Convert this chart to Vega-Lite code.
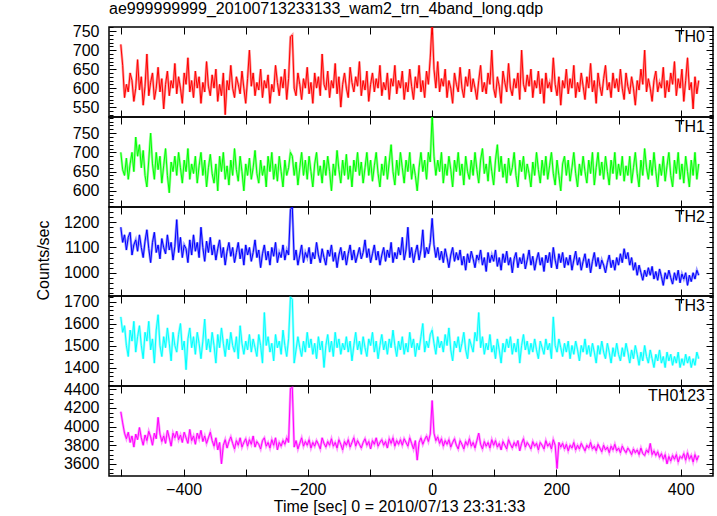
{
"$schema":"https://vega.github.io/schema/vega-lite/v6.json",
"padding":{"left":34,"top":0,"right":4,"bottom":2},
"config":{"font":"Liberation Sans","view":{"stroke":"#000","strokeWidth":1.5},"axis":{"labelFontSize":16,"labelColor":"#000","tickColor":"#000","tickWidth":1,"domain":false,"grid":false,"labelOverlap":false,"labelFlush":false,"titleFontSize":16,"titleFontWeight":"normal","titleColor":"#000"}},
"data":{"values":[
{"t":-501,"a":715,"b":700,"c":1180,"d":1630,"e":4160},
{"t":-498,"a":660,"b":655,"c":1120,"d":1560,"e":4040},
{"t":-495,"a":575,"b":640,"c":1150,"d":1590,"e":3930},
{"t":-492,"a":610,"b":685,"c":1090,"d":1500,"e":3870},
{"t":-489,"a":590,"b":630,"c":1140,"d":1450,"e":3940},
{"t":-486,"a":640,"b":670,"c":1160,"d":1570,"e":3830},
{"t":-483,"a":620,"b":700,"c":1070,"d":1520,"e":3900},
{"t":-480,"a":565,"b":650,"c":1110,"d":1610,"e":3780},
{"t":-477,"a":600,"b":740,"c":1130,"d":1470,"e":3920},
{"t":-474,"a":675,"b":690,"c":1085,"d":1540,"e":3860},
{"t":-471,"a":595,"b":720,"c":1150,"d":1590,"e":3990},
{"t":-468,"a":630,"b":660,"c":1100,"d":1500,"e":3880},
{"t":-465,"a":555,"b":705,"c":1060,"d":1440,"e":3800},
{"t":-462,"a":605,"b":640,"c":1125,"d":1560,"e":3910},
{"t":-459,"a":690,"b":610,"c":1170,"d":1520,"e":3850},
{"t":-456,"a":580,"b":680,"c":1095,"d":1610,"e":3950},
{"t":-453,"a":615,"b":750,"c":1040,"d":1480,"e":3890},
{"t":-450,"a":640,"b":670,"c":1120,"d":1530,"e":3800},
{"t":-447,"a":570,"b":630,"c":1160,"d":1420,"e":3930},
{"t":-444,"a":600,"b":700,"c":1080,"d":1570,"e":3870},
{"t":-441,"a":655,"b":655,"c":1110,"d":1640,"e":4100},
{"t":-438,"a":590,"b":690,"c":1055,"d":1500,"e":3920},
{"t":-435,"a":625,"b":620,"c":1135,"d":1450,"e":3840},
{"t":-432,"a":545,"b":665,"c":1100,"d":1540,"e":3900},
{"t":-429,"a":610,"b":710,"c":1075,"d":1490,"e":3820},
{"t":-426,"a":645,"b":640,"c":1150,"d":1580,"e":3960},
{"t":-423,"a":580,"b":595,"c":1090,"d":1510,"e":3880},
{"t":-420,"a":620,"b":675,"c":1120,"d":1430,"e":3790},
{"t":-417,"a":600,"b":650,"c":1050,"d":1560,"e":3930},
{"t":-414,"a":665,"b":690,"c":1105,"d":1500,"e":3880},
{"t":-411,"a":585,"b":640,"c":1210,"d":1470,"e":3950},
{"t":-408,"a":630,"b":700,"c":1080,"d":1550,"e":3860},
{"t":-405,"a":600,"b":660,"c":1140,"d":1600,"e":3910},
{"t":-402,"a":560,"b":620,"c":1060,"d":1480,"e":3830},
{"t":-399,"a":640,"b":680,"c":1110,"d":1520,"e":3940},
{"t":-396,"a":610,"b":650,"c":1095,"d":1390,"e":3880},
{"t":-393,"a":680,"b":710,"c":1040,"d":1530,"e":3820},
{"t":-390,"a":590,"b":630,"c":1130,"d":1580,"e":3970},
{"t":-387,"a":620,"b":670,"c":1070,"d":1490,"e":3850},
{"t":-384,"a":575,"b":645,"c":1150,"d":1540,"e":3900},
{"t":-381,"a":645,"b":690,"c":1085,"d":1460,"e":3810},
{"t":-378,"a":600,"b":620,"c":1120,"d":1560,"e":3930},
{"t":-375,"a":630,"b":665,"c":1060,"d":1510,"e":3870},
{"t":-372,"a":560,"b":700,"c":1180,"d":1440,"e":3960},
{"t":-369,"a":615,"b":640,"c":1100,"d":1520,"e":3840},
{"t":-366,"a":590,"b":680,"c":1045,"d":1620,"e":3900},
{"t":-363,"a":670,"b":610,"c":1125,"d":1480,"e":3820},
{"t":-360,"a":605,"b":660,"c":1080,"d":1530,"e":3880},
{"t":-357,"a":580,"b":695,"c":1140,"d":1470,"e":3940},
{"t":-354,"a":635,"b":645,"c":1070,"d":1560,"e":3850},
{"t":-351,"a":600,"b":620,"c":1110,"d":1500,"e":3790},
{"t":-348,"a":650,"b":670,"c":1050,"d":1420,"e":3880},
{"t":-345,"a":565,"b":600,"c":1095,"d":1550,"e":3750},
{"t":-342,"a":610,"b":690,"c":1130,"d":1490,"e":3830},
{"t":-339,"a":580,"b":650,"c":1060,"d":1580,"e":3600},
{"t":-336,"a":640,"b":700,"c":1100,"d":1510,"e":3800},
{"t":-333,"a":530,"b":630,"c":1030,"d":1450,"e":3860},
{"t":-330,"a":620,"b":665,"c":1085,"d":1530,"e":3770},
{"t":-327,"a":595,"b":615,"c":1120,"d":1480,"e":3840},
{"t":-324,"a":660,"b":680,"c":1065,"d":1560,"e":3890},
{"t":-321,"a":600,"b":640,"c":1100,"d":1500,"e":3820},
{"t":-318,"a":575,"b":710,"c":1040,"d":1470,"e":3760},
{"t":-315,"a":630,"b":655,"c":1080,"d":1540,"e":3850},
{"t":-312,"a":610,"b":625,"c":1120,"d":1440,"e":3800},
{"t":-309,"a":585,"b":690,"c":1055,"d":1590,"e":3880},
{"t":-306,"a":645,"b":650,"c":1095,"d":1510,"e":3780},
{"t":-303,"a":600,"b":600,"c":1030,"d":1460,"e":3830},
{"t":-300,"a":560,"b":670,"c":1110,"d":1520,"e":3870},
{"t":-297,"a":625,"b":640,"c":1070,"d":1480,"e":3790},
{"t":-294,"a":700,"b":685,"c":1100,"d":1550,"e":3860},
{"t":-291,"a":605,"b":630,"c":1045,"d":1470,"e":3810},
{"t":-288,"a":640,"b":660,"c":1080,"d":1530,"e":3900},
{"t":-285,"a":580,"b":705,"c":1130,"d":1490,"e":3780},
{"t":-282,"a":615,"b":645,"c":1060,"d":1450,"e":3840},
{"t":-279,"a":595,"b":620,"c":1090,"d":1550,"e":3810},
{"t":-276,"a":650,"b":680,"c":1020,"d":1500,"e":3760},
{"t":-273,"a":575,"b":640,"c":1075,"d":1420,"e":3850},
{"t":-270,"a":620,"b":665,"c":1110,"d":1650,"e":3880},
{"t":-267,"a":600,"b":610,"c":1050,"d":1500,"e":3790},
{"t":-264,"a":635,"b":690,"c":1085,"d":1540,"e":3830},
{"t":-261,"a":560,"b":650,"c":1030,"d":1470,"e":3770},
{"t":-258,"a":610,"b":700,"c":1100,"d":1510,"e":3860},
{"t":-255,"a":590,"b":630,"c":1065,"d":1430,"e":3800},
{"t":-252,"a":660,"b":670,"c":1120,"d":1550,"e":3880},
{"t":-249,"a":615,"b":625,"c":1040,"d":1490,"e":3750},
{"t":-246,"a":580,"b":690,"c":1080,"d":1520,"e":3830},
{"t":-243,"a":630,"b":650,"c":1060,"d":1460,"e":3790},
{"t":-240,"a":600,"b":610,"c":1110,"d":1570,"e":3850},
{"t":-237,"a":650,"b":680,"c":1050,"d":1500,"e":3810},
{"t":-234,"a":570,"b":640,"c":1090,"d":1450,"e":3880},
{"t":-231,"a":625,"b":660,"c":1070,"d":1530,"e":3830},
{"t":-228,"a":735,"b":700,"c":1250,"d":1720,"e":4410},
{"t":-225,"a":740,"b":690,"c":1260,"d":1710,"e":4420},
{"t":-222,"a":600,"b":640,"c":1050,"d":1420,"e":3780},
{"t":-219,"a":580,"b":675,"c":1090,"d":1480,"e":3850},
{"t":-216,"a":640,"b":615,"c":1030,"d":1540,"e":3760},
{"t":-213,"a":610,"b":660,"c":1070,"d":1490,"e":3820},
{"t":-210,"a":570,"b":700,"c":1110,"d":1450,"e":3880},
{"t":-207,"a":625,"b":640,"c":1040,"d":1520,"e":3790},
{"t":-204,"a":600,"b":680,"c":1080,"d":1470,"e":3840},
{"t":-201,"a":655,"b":630,"c":1060,"d":1560,"e":3800},
{"t":-198,"a":585,"b":690,"c":1100,"d":1490,"e":3860},
{"t":-195,"a":615,"b":650,"c":1035,"d":1530,"e":3770},
{"t":-192,"a":560,"b":610,"c":1080,"d":1460,"e":3830},
{"t":-189,"a":640,"b":670,"c":1055,"d":1510,"e":3790},
{"t":-186,"a":600,"b":700,"c":1120,"d":1440,"e":3850},
{"t":-183,"a":630,"b":640,"c":1070,"d":1540,"e":3810},
{"t":-180,"a":580,"b":665,"c":1040,"d":1480,"e":3760},
{"t":-177,"a":690,"b":620,"c":1095,"d":1520,"e":3880},
{"t":-174,"a":610,"b":680,"c":1060,"d":1400,"e":3820},
{"t":-171,"a":595,"b":640,"c":1030,"d":1500,"e":3780},
{"t":-168,"a":645,"b":690,"c":1090,"d":1550,"e":3840},
{"t":-165,"a":575,"b":650,"c":1065,"d":1470,"e":3800},
{"t":-162,"a":620,"b":600,"c":1110,"d":1520,"e":3870},
{"t":-159,"a":600,"b":670,"c":1045,"d":1450,"e":3790},
{"t":-156,"a":665,"b":640,"c":1080,"d":1560,"e":3830},
{"t":-153,"a":585,"b":705,"c":1020,"d":1490,"e":3770},
{"t":-150,"a":630,"b":655,"c":1070,"d":1530,"e":3860},
{"t":-147,"a":550,"b":620,"c":1100,"d":1460,"e":3810},
{"t":-144,"a":610,"b":680,"c":1050,"d":1510,"e":3750},
{"t":-141,"a":640,"b":640,"c":1085,"d":1480,"e":3840},
{"t":-138,"a":600,"b":695,"c":1030,"d":1540,"e":3800},
{"t":-135,"a":575,"b":630,"c":1075,"d":1470,"e":3860},
{"t":-132,"a":655,"b":665,"c":1110,"d":1520,"e":3780},
{"t":-129,"a":615,"b":610,"c":1050,"d":1430,"e":3830},
{"t":-126,"a":590,"b":680,"c":1090,"d":1500,"e":3880},
{"t":-123,"a":630,"b":650,"c":1040,"d":1560,"e":3790},
{"t":-120,"a":605,"b":700,"c":1070,"d":1480,"e":3850},
{"t":-117,"a":670,"b":640,"c":1100,"d":1520,"e":3810},
{"t":-114,"a":580,"b":675,"c":1055,"d":1460,"e":3770},
{"t":-111,"a":620,"b":620,"c":1080,"d":1540,"e":3830},
{"t":-108,"a":595,"b":660,"c":1130,"d":1490,"e":3870},
{"t":-105,"a":645,"b":700,"c":1060,"d":1450,"e":3800},
{"t":-102,"a":565,"b":640,"c":1095,"d":1530,"e":3840},
{"t":-99,"a":610,"b":680,"c":1040,"d":1500,"e":3760},
{"t":-96,"a":640,"b":625,"c":1075,"d":1560,"e":3850},
{"t":-93,"a":590,"b":665,"c":1110,"d":1470,"e":3810},
{"t":-90,"a":625,"b":700,"c":1050,"d":1520,"e":3880},
{"t":-87,"a":600,"b":645,"c":1085,"d":1440,"e":3790},
{"t":-84,"a":660,"b":610,"c":1030,"d":1500,"e":3830},
{"t":-81,"a":580,"b":670,"c":1070,"d":1550,"e":3860},
{"t":-78,"a":615,"b":640,"c":1100,"d":1480,"e":3800},
{"t":-75,"a":595,"b":690,"c":1045,"d":1520,"e":3840},
{"t":-72,"a":640,"b":630,"c":1090,"d":1460,"e":3770},
{"t":-69,"a":570,"b":675,"c":1060,"d":1530,"e":3870},
{"t":-66,"a":625,"b":720,"c":1120,"d":1490,"e":3820},
{"t":-63,"a":605,"b":650,"c":1040,"d":1570,"e":3880},
{"t":-60,"a":660,"b":615,"c":1080,"d":1500,"e":3790},
{"t":-57,"a":585,"b":680,"c":1055,"d":1450,"e":3850},
{"t":-54,"a":620,"b":640,"c":1100,"d":1520,"e":3810},
{"t":-51,"a":600,"b":700,"c":1070,"d":1480,"e":3860},
{"t":-48,"a":645,"b":660,"c":1140,"d":1540,"e":3800},
{"t":-45,"a":570,"b":620,"c":1050,"d":1460,"e":3870},
{"t":-42,"a":615,"b":680,"c":1090,"d":1510,"e":3830},
{"t":-39,"a":590,"b":650,"c":1180,"d":1470,"e":3790},
{"t":-36,"a":650,"b":700,"c":1060,"d":1560,"e":3880},
{"t":-33,"a":605,"b":630,"c":1100,"d":1490,"e":3820},
{"t":-30,"a":570,"b":670,"c":1040,"d":1530,"e":3760},
{"t":-27,"a":630,"b":640,"c":1080,"d":1450,"e":3850},
{"t":-24,"a":600,"b":600,"c":1110,"d":1510,"e":3640},
{"t":-21,"a":660,"b":660,"c":1050,"d":1480,"e":3830},
{"t":-18,"a":590,"b":700,"c":1090,"d":1540,"e":3880},
{"t":-15,"a":620,"b":650,"c":1170,"d":1600,"e":3810},
{"t":-12,"a":575,"b":680,"c":1060,"d":1470,"e":3860},
{"t":-9,"a":645,"b":630,"c":1100,"d":1520,"e":3900},
{"t":-6,"a":610,"b":700,"c":1075,"d":1490,"e":3840},
{"t":-3,"a":680,"b":675,"c":1120,"d":1550,"e":3920},
{"t":0,"a":775,"b":800,"c":1215,"d":1570,"e":4280},
{"t":3,"a":650,"b":690,"c":1110,"d":1510,"e":3930},
{"t":6,"a":600,"b":640,"c":1060,"d":1460,"e":3850},
{"t":9,"a":670,"b":680,"c":1100,"d":1540,"e":3890},
{"t":12,"a":590,"b":650,"c":1050,"d":1490,"e":3820},
{"t":15,"a":625,"b":700,"c":1085,"d":1520,"e":3870},
{"t":18,"a":605,"b":620,"c":1040,"d":1470,"e":3790},
{"t":21,"a":650,"b":670,"c":1095,"d":1550,"e":3850},
{"t":24,"a":575,"b":640,"c":1060,"d":1500,"e":3810},
{"t":27,"a":620,"b":690,"c":1020,"d":1580,"e":3860},
{"t":30,"a":600,"b":655,"c":1070,"d":1480,"e":3780},
{"t":33,"a":560,"b":610,"c":1100,"d":1430,"e":3830},
{"t":36,"a":640,"b":680,"c":1045,"d":1520,"e":3870},
{"t":39,"a":610,"b":650,"c":1080,"d":1490,"e":3800},
{"t":42,"a":590,"b":700,"c":1050,"d":1540,"e":3760},
{"t":45,"a":655,"b":640,"c":1090,"d":1470,"e":3850},
{"t":48,"a":600,"b":670,"c":1030,"d":1510,"e":3810},
{"t":51,"a":575,"b":615,"c":1065,"d":1560,"e":3760},
{"t":54,"a":630,"b":690,"c":1010,"d":1480,"e":3840},
{"t":57,"a":605,"b":650,"c":1075,"d":1440,"e":3800},
{"t":60,"a":650,"b":630,"c":1040,"d":1530,"e":3870},
{"t":63,"a":590,"b":680,"c":1085,"d":1500,"e":3790},
{"t":66,"a":625,"b":640,"c":1055,"d":1470,"e":3830},
{"t":69,"a":600,"b":700,"c":1020,"d":1560,"e":3770},
{"t":72,"a":570,"b":655,"c":1070,"d":1520,"e":3850},
{"t":75,"a":620,"b":620,"c":1050,"d":1650,"e":3930},
{"t":78,"a":660,"b":680,"c":1090,"d":1490,"e":3810},
{"t":81,"a":590,"b":710,"c":1030,"d":1540,"e":3760},
{"t":84,"a":615,"b":645,"c":1060,"d":1460,"e":3840},
{"t":87,"a":585,"b":670,"c":1005,"d":1510,"e":3790},
{"t":90,"a":640,"b":625,"c":1080,"d":1480,"e":3830},
{"t":93,"a":610,"b":690,"c":1040,"d":1550,"e":3770},
{"t":96,"a":700,"b":650,"c":1070,"d":1470,"e":3860},
{"t":99,"a":600,"b":615,"c":1045,"d":1500,"e":3800},
{"t":102,"a":575,"b":680,"c":1090,"d":1440,"e":3850},
{"t":105,"a":630,"b":720,"c":1025,"d":1530,"e":3780},
{"t":108,"a":605,"b":650,"c":1060,"d":1480,"e":3820},
{"t":111,"a":560,"b":690,"c":1010,"d":1420,"e":3750},
{"t":114,"a":645,"b":635,"c":1075,"d":1510,"e":3840},
{"t":117,"a":615,"b":670,"c":1040,"d":1470,"e":3800},
{"t":120,"a":590,"b":620,"c":1085,"d":1530,"e":3760},
{"t":123,"a":665,"b":685,"c":1030,"d":1490,"e":3860},
{"t":126,"a":600,"b":640,"c":1060,"d":1540,"e":3810},
{"t":129,"a":580,"b":660,"c":1000,"d":1460,"e":3770},
{"t":132,"a":625,"b":700,"c":1055,"d":1510,"e":3830},
{"t":135,"a":600,"b":640,"c":1080,"d":1470,"e":3790},
{"t":138,"a":640,"b":610,"c":1020,"d":1530,"e":3850},
{"t":141,"a":570,"b":680,"c":1060,"d":1420,"e":3740},
{"t":144,"a":700,"b":650,"c":1035,"d":1500,"e":3820},
{"t":147,"a":610,"b":690,"c":1075,"d":1550,"e":3870},
{"t":150,"a":590,"b":630,"c":1015,"d":1480,"e":3780},
{"t":153,"a":635,"b":670,"c":1050,"d":1520,"e":3830},
{"t":156,"a":605,"b":645,"c":1090,"d":1460,"e":3800},
{"t":159,"a":650,"b":610,"c":1030,"d":1510,"e":3760},
{"t":162,"a":575,"b":675,"c":1065,"d":1470,"e":3840},
{"t":165,"a":620,"b":640,"c":1010,"d":1530,"e":3790},
{"t":168,"a":600,"b":700,"c":1050,"d":1480,"e":3820},
{"t":171,"a":645,"b":655,"c":1080,"d":1440,"e":3750},
{"t":174,"a":585,"b":620,"c":1030,"d":1520,"e":3830},
{"t":177,"a":625,"b":680,"c":1060,"d":1490,"e":3800},
{"t":180,"a":560,"b":640,"c":1005,"d":1460,"e":3760},
{"t":183,"a":640,"b":690,"c":1070,"d":1530,"e":3850},
{"t":186,"a":600,"b":630,"c":1040,"d":1480,"e":3790},
{"t":189,"a":615,"b":665,"c":1080,"d":1510,"e":3820},
{"t":192,"a":590,"b":700,"c":1020,"d":1440,"e":3760},
{"t":195,"a":680,"b":645,"c":1100,"d":1630,"e":3860},
{"t":198,"a":610,"b":615,"c":1050,"d":1500,"e":3800},
{"t":201,"a":580,"b":680,"c":1015,"d":1470,"e":3550},
{"t":204,"a":630,"b":640,"c":1075,"d":1530,"e":3830},
{"t":207,"a":555,"b":600,"c":1040,"d":1490,"e":3780},
{"t":210,"a":620,"b":670,"c":1080,"d":1450,"e":3820},
{"t":213,"a":600,"b":690,"c":1020,"d":1510,"e":3760},
{"t":216,"a":650,"b":640,"c":1060,"d":1470,"e":3810},
{"t":219,"a":585,"b":680,"c":1030,"d":1520,"e":3740},
{"t":222,"a":625,"b":625,"c":1070,"d":1440,"e":3800},
{"t":225,"a":600,"b":660,"c":1010,"d":1500,"e":3770},
{"t":228,"a":660,"b":700,"c":1050,"d":1460,"e":3830},
{"t":231,"a":575,"b":645,"c":1085,"d":1520,"e":3750},
{"t":234,"a":615,"b":610,"c":1030,"d":1480,"e":3800},
{"t":237,"a":590,"b":670,"c":1060,"d":1430,"e":3760},
{"t":240,"a":640,"b":640,"c":1010,"d":1500,"e":3820},
{"t":243,"a":605,"b":690,"c":1045,"d":1470,"e":3780},
{"t":246,"a":570,"b":650,"c":1075,"d":1530,"e":3740},
{"t":249,"a":630,"b":620,"c":1020,"d":1460,"e":3800},
{"t":252,"a":600,"b":680,"c":1055,"d":1500,"e":3770},
{"t":255,"a":665,"b":645,"c":1000,"d":1450,"e":3830},
{"t":258,"a":590,"b":700,"c":1045,"d":1510,"e":3760},
{"t":261,"a":620,"b":615,"c":1080,"d":1470,"e":3790},
{"t":264,"a":560,"b":660,"c":1025,"d":1420,"e":3740},
{"t":267,"a":640,"b":700,"c":1060,"d":1500,"e":3810},
{"t":270,"a":605,"b":640,"c":1015,"d":1460,"e":3770},
{"t":273,"a":580,"b":675,"c":1050,"d":1520,"e":3730},
{"t":276,"a":625,"b":630,"c":1030,"d":1470,"e":3800},
{"t":279,"a":660,"b":690,"c":1000,"d":1440,"e":3750},
{"t":282,"a":595,"b":650,"c":1040,"d":1510,"e":3780},
{"t":285,"a":615,"b":615,"c":1070,"d":1470,"e":3720},
{"t":288,"a":575,"b":680,"c":1020,"d":1420,"e":3790},
{"t":291,"a":640,"b":645,"c":1050,"d":1490,"e":3750},
{"t":294,"a":600,"b":700,"c":1010,"d":1450,"e":3810},
{"t":297,"a":625,"b":630,"c":1060,"d":1510,"e":3740},
{"t":300,"a":590,"b":670,"c":1030,"d":1460,"e":3770},
{"t":303,"a":650,"b":640,"c":1075,"d":1430,"e":3720},
{"t":306,"a":600,"b":690,"c":1040,"d":1490,"e":3790},
{"t":309,"a":570,"b":625,"c":1095,"d":1450,"e":3750},
{"t":312,"a":640,"b":665,"c":1055,"d":1510,"e":3720},
{"t":315,"a":605,"b":640,"c":1080,"d":1470,"e":3770},
{"t":318,"a":585,"b":690,"c":1030,"d":1420,"e":3740},
{"t":321,"a":630,"b":620,"c":1060,"d":1480,"e":3700},
{"t":324,"a":600,"b":660,"c":1010,"d":1440,"e":3760},
{"t":327,"a":555,"b":700,"c":1040,"d":1500,"e":3720},
{"t":330,"a":620,"b":645,"c":990,"d":1460,"e":3750},
{"t":333,"a":595,"b":610,"c":1030,"d":1410,"e":3700},
{"t":336,"a":650,"b":680,"c":1000,"d":1470,"e":3770},
{"t":339,"a":610,"b":640,"c":970,"d":1430,"e":3710},
{"t":342,"a":700,"b":710,"c":1010,"d":1500,"e":3690},
{"t":345,"a":590,"b":660,"c":985,"d":1450,"e":3750},
{"t":348,"a":625,"b":630,"c":1020,"d":1420,"e":3720},
{"t":351,"a":600,"b":680,"c":990,"d":1480,"e":3820},
{"t":354,"a":565,"b":640,"c":1025,"d":1440,"e":3700},
{"t":357,"a":620,"b":700,"c":975,"d":1400,"e":3740},
{"t":360,"a":645,"b":650,"c":1005,"d":1460,"e":3690},
{"t":363,"a":590,"b":610,"c":970,"d":1430,"e":3730},
{"t":366,"a":615,"b":670,"c":1015,"d":1480,"e":3670},
{"t":369,"a":600,"b":640,"c":985,"d":1420,"e":3710},
{"t":372,"a":655,"b":690,"c":950,"d":1450,"e":3650},
{"t":375,"a":575,"b":625,"c":1000,"d":1400,"e":3700},
{"t":378,"a":620,"b":665,"c":975,"d":1470,"e":3600},
{"t":381,"a":590,"b":700,"c":1010,"d":1430,"e":3680},
{"t":384,"a":640,"b":640,"c":980,"d":1460,"e":3630},
{"t":387,"a":610,"b":610,"c":955,"d":1410,"e":3690},
{"t":390,"a":670,"b":680,"c":1000,"d":1450,"e":3650},
{"t":393,"a":580,"b":645,"c":970,"d":1420,"e":3700},
{"t":396,"a":625,"b":700,"c":1010,"d":1470,"e":3620},
{"t":399,"a":600,"b":630,"c":960,"d":1400,"e":3680},
{"t":402,"a":650,"b":670,"c":995,"d":1440,"e":3660},
{"t":405,"a":565,"b":620,"c":975,"d":1410,"e":3710},
{"t":408,"a":620,"b":690,"c":1000,"d":1460,"e":3640},
{"t":411,"a":680,"b":650,"c":950,"d":1420,"e":3720},
{"t":414,"a":595,"b":610,"c":990,"d":1450,"e":3650},
{"t":417,"a":615,"b":680,"c":965,"d":1400,"e":3690},
{"t":420,"a":545,"b":640,"c":1000,"d":1440,"e":3620},
{"t":423,"a":630,"b":700,"c":975,"d":1410,"e":3700},
{"t":426,"a":585,"b":630,"c":1010,"d":1470,"e":3640},
{"t":429,"a":620,"b":670,"c":990,"d":1440,"e":3690}
]},
"vconcat":[
{"width":604,"height":90,
 "title":{"text":"ae999999999_20100713233133_wam2_trn_4band_long.qdp","anchor":"start","frame":"group","fontSize":16,"fontWeight":"normal","offset":2,"color":"#000"},
 "layer":[
  {"mark":{"type":"line","color":"#ff0000","strokeWidth":2.5,"opacity":0.4,"clip":true},
   "encoding":{"x":{"field":"t","type":"quantitative","scale":{"domain":[-520,452],"nice":false,"zero":false},"axis":{"orient":"bottom","values":[-500,-400,-300,-200,-100,0,100,200,300,400],"labels":false,"tickSize":-7,"title":null}},
    "y":{"field":"a","type":"quantitative","scale":{"domain":[524,761],"nice":false,"zero":false},"axis":{"orient":"left","format":"d","values":[530,540,550,560,570,580,590,600,610,620,630,640,650,660,670,680,690,700,710,720,730,740,750,760],"labelExpr":"datum.value % 50 === 0 ? datum.label : ''","tickSize":{"condition":{"test":"datum.value % 50 === 0","value":-7},"value":-4},"labelPadding":17,"title":null}}}},
  {"mark":{"type":"line","color":"#ff0000","strokeWidth":1,"clip":true},
   "encoding":{"x":{"field":"t","type":"quantitative","scale":{"domain":[-520,452],"nice":false,"zero":false},"axis":{"orient":"top","values":[-500,-400,-300,-200,-100,0,100,200,300,400],"labels":false,"tickSize":-7,"title":null}},
    "y":{"field":"a","type":"quantitative","scale":{"domain":[524,761],"nice":false,"zero":false},"axis":{"orient":"right","values":[530,540,550,560,570,580,590,600,610,620,630,640,650,660,670,680,690,700,710,720,730,740,750,760],"labels":false,"tickSize":{"condition":{"test":"datum.value % 50 === 0","value":-7},"value":-4},"title":null}}}},
  {"data":{"values":[{"lab":"TH0"}]},"mark":{"type":"text","align":"right","baseline":"top","fontSize":16,"dx":-8,"dy":2,"color":"#000"},
   "encoding":{"x":{"datum":452,"type":"quantitative","scale":{"domain":[-520,452],"nice":false,"zero":false},"axis":null},"y":{"datum":761,"type":"quantitative","scale":{"domain":[524,761],"nice":false,"zero":false},"axis":null},"text":{"field":"lab"}}}
 ],
 "resolve":{"axis":{"x":"independent","y":"independent"}}},
{"width":604,"height":90,
 "layer":[
  {"mark":{"type":"line","color":"#00ff00","strokeWidth":2.5,"opacity":0.4,"clip":true},
   "encoding":{"x":{"field":"t","type":"quantitative","scale":{"domain":[-520,452],"nice":false,"zero":false},"axis":{"orient":"bottom","values":[-500,-400,-300,-200,-100,0,100,200,300,400],"labels":false,"tickSize":-7,"title":null}},
    "y":{"field":"b","type":"quantitative","scale":{"domain":[558,792],"nice":false,"zero":false},"axis":{"orient":"left","format":"d","values":[560,570,580,590,600,610,620,630,640,650,660,670,680,690,700,710,720,730,740,750,760,770,780,790],"labelExpr":"datum.value % 50 === 0 ? datum.label : ''","tickSize":{"condition":{"test":"datum.value % 50 === 0","value":-7},"value":-4},"labelPadding":17,"title":null}}}},
  {"mark":{"type":"line","color":"#00ff00","strokeWidth":1,"clip":true},
   "encoding":{"x":{"field":"t","type":"quantitative","scale":{"domain":[-520,452],"nice":false,"zero":false},"axis":{"orient":"top","values":[-500,-400,-300,-200,-100,0,100,200,300,400],"labels":false,"tickSize":-7,"title":null}},
    "y":{"field":"b","type":"quantitative","scale":{"domain":[558,792],"nice":false,"zero":false},"axis":{"orient":"right","values":[560,570,580,590,600,610,620,630,640,650,660,670,680,690,700,710,720,730,740,750,760,770,780,790],"labels":false,"tickSize":{"condition":{"test":"datum.value % 50 === 0","value":-7},"value":-4},"title":null}}}},
  {"data":{"values":[{"lab":"TH1"}]},"mark":{"type":"text","align":"right","baseline":"top","fontSize":16,"dx":-8,"dy":2,"color":"#000"},
   "encoding":{"x":{"datum":452,"type":"quantitative","scale":{"domain":[-520,452],"nice":false,"zero":false},"axis":null},"y":{"datum":792,"type":"quantitative","scale":{"domain":[558,792],"nice":false,"zero":false},"axis":null},"text":{"field":"lab"}}}
 ],
 "resolve":{"axis":{"x":"independent","y":"independent"}}},
{"width":604,"height":89,
 "layer":[
  {"mark":{"type":"line","color":"#0000ff","strokeWidth":2.5,"opacity":0.4,"clip":true},
   "encoding":{"x":{"field":"t","type":"quantitative","scale":{"domain":[-520,452],"nice":false,"zero":false},"axis":{"orient":"bottom","values":[-500,-400,-300,-200,-100,0,100,200,300,400],"labels":false,"tickSize":-7,"title":null}},
    "y":{"field":"c","type":"quantitative","scale":{"domain":[908,1260],"nice":false,"zero":false},"axis":{"orient":"left","format":"d","values":[920,940,960,980,1000,1020,1040,1060,1080,1100,1120,1140,1160,1180,1200,1220,1240],"labelExpr":"datum.value % 100 === 0 ? datum.label : ''","tickSize":{"condition":{"test":"datum.value % 100 === 0","value":-7},"value":-4},"labelPadding":17,"title":"Counts/sec","titleX":-66,"titleY":53,"titleAngle":-90,"titleBaseline":"middle","titleAlign":"center"}}}},
  {"mark":{"type":"line","color":"#0000ff","strokeWidth":1,"clip":true},
   "encoding":{"x":{"field":"t","type":"quantitative","scale":{"domain":[-520,452],"nice":false,"zero":false},"axis":{"orient":"top","values":[-500,-400,-300,-200,-100,0,100,200,300,400],"labels":false,"tickSize":-7,"title":null}},
    "y":{"field":"c","type":"quantitative","scale":{"domain":[908,1260],"nice":false,"zero":false},"axis":{"orient":"right","values":[920,940,960,980,1000,1020,1040,1060,1080,1100,1120,1140,1160,1180,1200,1220,1240],"labels":false,"tickSize":{"condition":{"test":"datum.value % 100 === 0","value":-7},"value":-4},"title":null}}}},
  {"data":{"values":[{"lab":"TH2"}]},"mark":{"type":"text","align":"right","baseline":"top","fontSize":16,"dx":-8,"dy":2,"color":"#000"},
   "encoding":{"x":{"datum":452,"type":"quantitative","scale":{"domain":[-520,452],"nice":false,"zero":false},"axis":null},"y":{"datum":1260,"type":"quantitative","scale":{"domain":[908,1260],"nice":false,"zero":false},"axis":null},"text":{"field":"lab"}}}
 ],
 "resolve":{"axis":{"x":"independent","y":"independent"}}},
{"width":604,"height":90,
 "layer":[
  {"mark":{"type":"line","color":"#00ffff","strokeWidth":2.5,"opacity":0.4,"clip":true},
   "encoding":{"x":{"field":"t","type":"quantitative","scale":{"domain":[-520,452],"nice":false,"zero":false},"axis":{"orient":"bottom","values":[-500,-400,-300,-200,-100,0,100,200,300,400],"labels":false,"tickSize":-7,"title":null}},
    "y":{"field":"d","type":"quantitative","scale":{"domain":[1316,1725],"nice":false,"zero":false},"axis":{"orient":"left","format":"d","values":[1320,1340,1360,1380,1400,1420,1440,1460,1480,1500,1520,1540,1560,1580,1600,1620,1640,1660,1680,1700,1720],"labelExpr":"datum.value % 100 === 0 ? datum.label : ''","tickSize":{"condition":{"test":"datum.value % 100 === 0","value":-7},"value":-4},"labelPadding":17,"title":null}}}},
  {"mark":{"type":"line","color":"#00ffff","strokeWidth":1,"clip":true},
   "encoding":{"x":{"field":"t","type":"quantitative","scale":{"domain":[-520,452],"nice":false,"zero":false},"axis":{"orient":"top","values":[-500,-400,-300,-200,-100,0,100,200,300,400],"labels":false,"tickSize":-7,"title":null}},
    "y":{"field":"d","type":"quantitative","scale":{"domain":[1316,1725],"nice":false,"zero":false},"axis":{"orient":"right","values":[1320,1340,1360,1380,1400,1420,1440,1460,1480,1500,1520,1540,1560,1580,1600,1620,1640,1660,1680,1700,1720],"labels":false,"tickSize":{"condition":{"test":"datum.value % 100 === 0","value":-7},"value":-4},"title":null}}}},
  {"data":{"values":[{"lab":"TH3"}]},"mark":{"type":"text","align":"right","baseline":"top","fontSize":16,"dx":-8,"dy":2,"color":"#000"},
   "encoding":{"x":{"datum":452,"type":"quantitative","scale":{"domain":[-520,452],"nice":false,"zero":false},"axis":null},"y":{"datum":1725,"type":"quantitative","scale":{"domain":[1316,1725],"nice":false,"zero":false},"axis":null},"text":{"field":"lab"}}}
 ],
 "resolve":{"axis":{"x":"independent","y":"independent"}}},
{"width":604,"height":90,
 "layer":[
  {"mark":{"type":"line","color":"#ff00ff","strokeWidth":2.5,"opacity":0.4,"clip":true},
   "encoding":{"x":{"field":"t","type":"quantitative","scale":{"domain":[-520,452],"nice":false,"zero":false},"axis":{"orient":"bottom","values":[-500,-400,-300,-200,-100,0,100,200,300,400],"labelExpr":"datum.value % 200 === 0 ? datum.label : ''","tickSize":-7,"labelPadding":12,"title":"Time [sec] 0 = 2010/07/13 23:31:33","titlePadding":1,"titleX":290}},
    "y":{"field":"e","type":"quantitative","scale":{"domain":[3470,4436],"nice":false,"zero":false},"axis":{"orient":"left","format":"d","values":[3500,3550,3600,3650,3700,3750,3800,3850,3900,3950,4000,4050,4100,4150,4200,4250,4300,4350,4400],"labelExpr":"datum.value % 200 === 0 ? datum.label : ''","tickSize":{"condition":{"test":"datum.value % 200 === 0","value":-7},"value":-4},"labelPadding":17,"title":null}}}},
  {"mark":{"type":"line","color":"#ff00ff","strokeWidth":1,"clip":true},
   "encoding":{"x":{"field":"t","type":"quantitative","scale":{"domain":[-520,452],"nice":false,"zero":false},"axis":{"orient":"top","values":[-500,-400,-300,-200,-100,0,100,200,300,400],"labels":false,"tickSize":-7,"title":null}},
    "y":{"field":"e","type":"quantitative","scale":{"domain":[3470,4436],"nice":false,"zero":false},"axis":{"orient":"right","values":[3500,3550,3600,3650,3700,3750,3800,3850,3900,3950,4000,4050,4100,4150,4200,4250,4300,4350,4400],"labels":false,"tickSize":{"condition":{"test":"datum.value % 200 === 0","value":-7},"value":-4},"title":null}}}},
  {"data":{"values":[{"lab":"TH0123"}]},"mark":{"type":"text","align":"right","baseline":"top","fontSize":16,"dx":-8,"dy":2,"color":"#000"},
   "encoding":{"x":{"datum":452,"type":"quantitative","scale":{"domain":[-520,452],"nice":false,"zero":false},"axis":null},"y":{"datum":4436,"type":"quantitative","scale":{"domain":[3470,4436],"nice":false,"zero":false},"axis":null},"text":{"field":"lab"}}}
 ],
 "resolve":{"axis":{"x":"independent","y":"independent"}}}
],
"spacing":0,
"bounds":"flush"
}
